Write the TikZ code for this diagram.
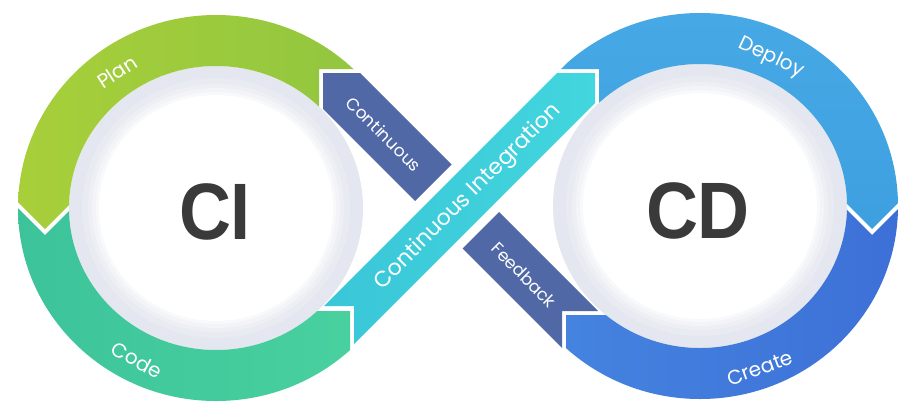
\documentclass[tikz,border=0pt]{standalone}
\usepackage{fontspec}
\setmainfont{Poppins}
\newfontfamily\bigfont{Liberation Sans}
\definecolor{halogrey}{HTML}{E4E7EF}
\definecolor{planA}{HTML}{A8CF3A}
\definecolor{planB}{HTML}{8EC540}
\definecolor{codeA}{HTML}{3CC39A}
\definecolor{codeB}{HTML}{4CD3A0}
\definecolor{depA}{HTML}{46A9E5}
\definecolor{depB}{HTML}{3898DC}
\definecolor{creA}{HTML}{4687E1}
\definecolor{creB}{HTML}{3D70D7}
\definecolor{cyanA}{HTML}{3AC6D8}
\definecolor{cyanB}{HTML}{42D6DE}
\definecolor{darkrib}{HTML}{5068A6}
\definecolor{bigtext}{HTML}{3A3A3A}
\begin{document}
\begin{tikzpicture}[x=1pt,y=-1pt,
  lbl/.style={text=white,font=\fontsize{20}{20}\selectfont,inner sep=0pt},
  riblbl/.style={text=white,font=\fontsize{22}{22}\selectfont,inner sep=0pt},
  smalllbl/.style={text=white,font=\fontsize{17}{17}\selectfont,inner sep=0pt},
  biglbl/.style={text=bigtext,font=\bigfont\bfseries\fontsize{80}{80}\selectfont,inner sep=0pt}]
\useasboundingbox (0,0) rectangle (904,405);
\fill[white] (0,0) rectangle (904,405);
\coordinate (C1) at (216,208);
\coordinate (C2) at (700,206);
% grey halos with soft inner edge
\foreach \c in {C1,C2}{
  \fill[halogrey] (\c) ellipse [x radius=147pt, y radius=142pt];
  \fill[halogrey!85!white] (\c) ellipse [x radius=134pt, y radius=130pt];
  \fill[halogrey!65!white] (\c) ellipse [x radius=128pt, y radius=124pt];
  \fill[halogrey!45!white] (\c) ellipse [x radius=124pt, y radius=120pt];
  \fill[halogrey!25!white] (\c) ellipse [x radius=120pt, y radius=116pt];
  \fill[white] (\c) ellipse [x radius=117pt, y radius=113pt];
}
% Plan arc
\begin{scope}
\clip (-20,-20) -- (267,-20) -- (356,69) -- (319,69) -- (319,170) -- (216,208) -- (99,175) -- (45,229) -- (-9,175) -- cycle;
\shade[even odd rule,left color=planA,right color=planB] (C1) ellipse [x radius=198pt, y radius=193pt] (C1) ellipse [x radius=147pt, y radius=142pt];
\end{scope}
% Code arc
\begin{scope}
\clip (-9,181) -- (45,235) -- (99,181) -- (216,208) -- (300,311) -- (350,311) -- (350,420) -- (-20,420) -- (-20,181) -- cycle;
\shade[even odd rule,left color=codeA,right color=codeB] (C1) ellipse [x radius=198pt, y radius=193pt] (C1) ellipse [x radius=147pt, y radius=142pt];
\end{scope}
% Deploy arc
\begin{scope}
\clip (660,-30) -- (561,69) -- (599,69) -- (599,170) -- (700,206) -- (818,175) -- (872,229) -- (926,175) -- (930,-30) -- cycle;
\shade[even odd rule,top color=depA,bottom color=depB] (C2) ellipse [x radius=198pt, y radius=193pt] (C2) ellipse [x radius=147pt, y radius=142pt];
\end{scope}
% Create arc
\begin{scope}
\clip (700,206) -- (620,315) -- (566,315) -- (566,420) -- (930,420) -- (930,181) -- (926,181) -- (872,235) -- (818,181) -- cycle;
\shade[even odd rule,left color=creA,right color=creB] (C2) ellipse [x radius=198pt, y radius=193pt] (C2) ellipse [x radius=147pt, y radius=142pt];
\end{scope}
% dark ribbon (two parts)
\fill[darkrib] (323,73) -- (360,73) -- (451.5,164.5) -- (415,201) -- (323,109) -- cycle;
\fill[darkrib] (499,212) -- (598,311) -- (562,311) -- (562,348) -- (462.5,248.5) -- cycle;
% cyan ribbon
\shade[left color=cyanA,right color=cyanB] (324,306) -- (354,306) -- (354,344) -- (595,103) -- (595,73) -- (557,73) -- cycle;
% labels
\node[lbl,rotate=33] (plan) at (117,72) {Plan};
\node[lbl,rotate=-28] (code) at (137,360) {Code};
\node[lbl,rotate=-25] (deploy) at (771,58) {Deploy};
\node[lbl,rotate=20] (create) at (760,368) {Create};
\node[riblbl,rotate=45] (ci-text) at (468,197) {Continuous Integration};
\node[smalllbl,rotate=-45] (cont) at (384,134) {Continuous};
\node[smalllbl,rotate=-45] (fb) at (524,275) {Feedback};
\node[biglbl] (ci) at (215,212) {\scalebox{0.9}[1]{CI}};
\node[biglbl] (cd) at (698,211) {\scalebox{0.9}[1]{CD}};
\end{tikzpicture}
\end{document}
